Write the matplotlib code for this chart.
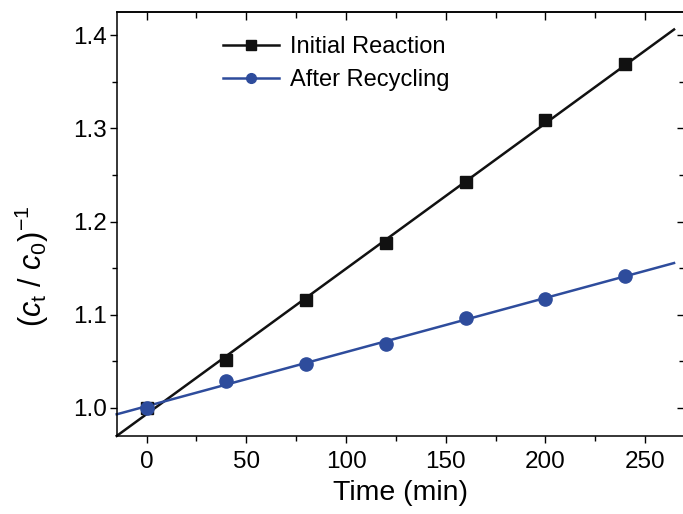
import numpy as np
import matplotlib
matplotlib.use('Agg')
import matplotlib.pyplot as plt
from matplotlib.ticker import MultipleLocator

plt.rcParams['font.family'] = ['Liberation Sans', 'DejaVu Sans']
plt.rcParams['mathtext.fontset'] = 'custom'
plt.rcParams['mathtext.rm'] = 'Liberation Sans'
plt.rcParams['mathtext.it'] = 'Liberation Sans:italic'

# data
time_min = [0, 40, 80, 120, 160, 200, 240]
initial = [1.000, 1.051, 1.116, 1.177, 1.242, 1.309, 1.369]
recycled = [1.000, 1.029, 1.047, 1.069, 1.096, 1.117, 1.142]

black = '#111111'
blue = '#2e4c9c'

fig = plt.figure(figsize=(6.83, 5.14), dpi=100)
ax = fig.add_axes([116.7/683, 1 - 435.7/514, (685 - 116.7)/683, (435.7 - 12)/514])

xmin, xmax = -15, 270
xfit = np.array([xmin, 264.5])

# linear fits drawn through the points
k1, b1 = np.polyfit(time_min, initial, 1)
k2, b2 = np.polyfit(time_min, recycled, 1)

ax.plot(xfit, k1*xfit + b1, color=black, lw=1.8, clip_on=False)
ax.plot(xfit, k2*xfit + b2, color=blue, lw=1.8, clip_on=False)
ax.plot(time_min, initial, 's', color=black, ms=9)
ax.plot(time_min, recycled, 'o', color=blue, ms=9.5)

# legend handles (line + marker)
h1, = ax.plot([], [], '-s', color=black, lw=1.8, ms=6.5)
h2, = ax.plot([], [], '-o', color=blue, lw=1.8, ms=7)
ax.legend([h1, h2], ['Initial Reaction', 'After Recycling'], loc='upper left',
          bbox_to_anchor=(0.17, 0.965), frameon=False, fontsize=17,
          handlelength=2.4, handletextpad=0.45, labelspacing=0.45, borderaxespad=0)

ax.set_xlim(xmin, xmax)
ax.set_ylim(0.97, 1.425)
ax.xaxis.set_major_locator(MultipleLocator(50))
ax.xaxis.set_minor_locator(MultipleLocator(25))
ax.yaxis.set_major_locator(MultipleLocator(0.1))
ax.yaxis.set_minor_locator(MultipleLocator(0.05))
ax.yaxis.set_major_formatter(plt.FormatStrFormatter('%.1f'))

for s in ax.spines.values():
    s.set_linewidth(1.1)

ax.tick_params(which='both', direction='out', labelsize=17.5, width=1.0,
               top=False, right=False)
ax.tick_params(which='major', length=5)
ax.tick_params(which='minor', length=3.5)
ax.tick_params(axis='x', pad=6)
ax.tick_params(axis='y', pad=2)

# top / right ticks point inward
ax2 = ax.secondary_xaxis('top')
ax2.xaxis.set_major_locator(MultipleLocator(50))
ax2.xaxis.set_minor_locator(MultipleLocator(25))
ax2.tick_params(which='both', direction='in', labeltop=False, width=1.0)
ax2.tick_params(which='major', length=6)
ax2.tick_params(which='minor', length=4)
ax2.spines['top'].set_linewidth(1.1)
ax3 = ax.secondary_yaxis('right')
ax3.yaxis.set_major_locator(MultipleLocator(0.1))
ax3.yaxis.set_minor_locator(MultipleLocator(0.05))
ax3.tick_params(which='both', direction='in', labelright=False, width=1.0)
ax3.tick_params(which='major', length=6)
ax3.tick_params(which='minor', length=4)

ax.set_xlabel('Time (min)', fontsize=20.5, labelpad=5)
ax.set_ylabel(r'($\it{c}_\mathregular{t}$ / $\it{c}_\mathregular{0}$)$^\mathregular{-1}$',
              fontsize=22)
ax.yaxis.set_label_coords(-0.115, 0.40)

fig.savefig('out.png', dpi=100)
